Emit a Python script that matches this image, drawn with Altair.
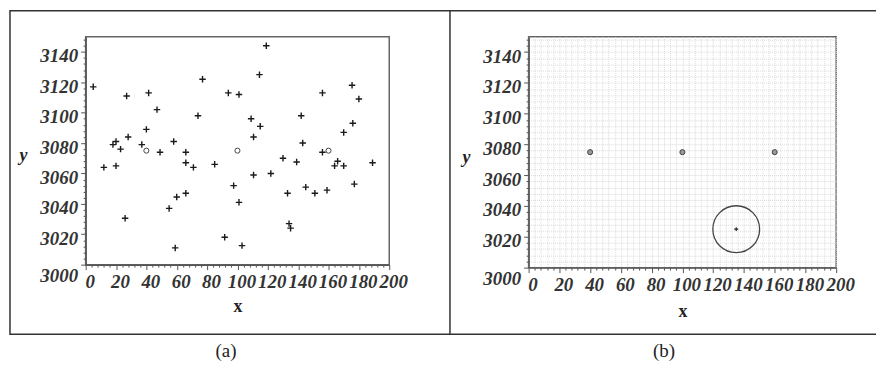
import altair as alt
import pandas as pd

# ---- data ----
a_x = [5, 27, 41.5, 47, 77, 74, 94, 101, 40, 28, 20, 18, 37, 58, 23,
       119, 114.5, 156, 175.5, 180, 142, 109, 115, 110.6, 176, 170, 143, 156,
       49, 66, 66, 71, 85, 12, 20, 97.5, 101, 66, 60, 55, 26, 91.6, 59, 103,
       130, 139, 166, 164, 170, 189, 110.6, 122, 133, 145, 151, 159, 177, 134, 135]
a_y = [3117, 3111, 3113, 3102, 3122, 3098, 3113, 3112, 3089, 3084, 3081, 3079, 3079, 3081, 3076,
       3144, 3125, 3113, 3118, 3109, 3098, 3096, 3091, 3084, 3093, 3087, 3080, 3074,
       3074, 3074, 3067, 3064, 3066, 3064, 3065, 3052, 3041, 3047, 3044.5, 3037, 3030.5, 3018, 3011, 3012.5,
       3070, 3067.5, 3068, 3065, 3065, 3067, 3059, 3060, 3047, 3051, 3047, 3049, 3053, 3027, 3024]
ring_x = [40, 100, 160]
ring_y = [3075, 3075, 3075]
hit_x = [135]
hit_y = [3025]

x_ticks = list(range(0, 201, 4))
y_ticks = list(range(3000, 3151, 4))
captions = ["(a)", "(b)"]

FONT = "Liberation Serif"
AX = "#555"
CROSS = "M-1,0H1M0,-1V1"

df_a = pd.DataFrame({"x": a_x, "y": a_y})
df_r = pd.DataFrame({"x": ring_x, "y": ring_y})
df_h = pd.DataFrame({"x": hit_x, "y": hit_y})
one = alt.Data(values=[{}])

xs = alt.Scale(domain=[0, 200], nice=False, zero=False)
ys = alt.Scale(domain=[3000, 3150], nice=False, zero=False)

major_tick = {"condition": {"test": "datum.value % 20 === 0", "value": 5}, "value": 2.5}


def x_axis(grid, title_y):
    return alt.Axis(
        values=x_ticks, tickCount=200, format="d", title="x",
        labelExpr="datum.value % 20 === 0 ? datum.label : ''",
        labelFont=FONT, labelFontSize=19, labelFontStyle="italic", labelFontWeight="bold",
        labelColor="#333", labelOverlap=False, labelFlush=False, labelOffset=4,
        labelBound=False,
        labelPadding=3, tickSize=major_tick, tickColor=AX, domainColor=AX, domainWidth=1.5,
        titleFont=FONT, titleFontSize=18, titleFontWeight="bold", titleColor="#222",
        titleY=title_y, titleBaseline="middle",
        grid=grid, gridColor="#dadada", gridDash=[1, 1], gridWidth=1,
    )


def y_axis(grid, title_y):
    return alt.Axis(
        values=y_ticks, tickCount=200, format="d", title="y",
        labelExpr="datum.value % 20 === 0 ? datum.label : ''",
        labelFont=FONT, labelFontSize=19, labelFontStyle="italic", labelFontWeight="bold",
        labelColor="#333", labelOverlap=False, labelFlush=False,
        labelBound=False,
        labelOffset={"condition": {"test": "datum.value === 3000", "value": 11}, "value": 4},
        labelPadding=3, tickSize=major_tick, tickColor=AX, domainColor=AX, domainWidth=1.5,
        titleFont=FONT, titleFontSize=18, titleFontWeight="bold", titleFontStyle="italic",
        titleColor="#222", titleAngle=0, titleX=-63, titleY=title_y,
        titleAlign="center", titleBaseline="middle",
        grid=grid, gridColor="#dadada", gridDash=[1, 1], gridWidth=1,
    )


# ---- panel (a) ----
pts_a = alt.Chart(df_a).mark_point(
    shape=CROSS, size=42, filled=False, color="#1a1a1a", strokeWidth=1.4, opacity=1
).encode(
    x=alt.X("x:Q", scale=xs, axis=x_axis(False, 42)),
    y=alt.Y("y:Q", scale=ys, axis=y_axis(False, 119)),
)
rings_a = alt.Chart(df_r).mark_point(
    shape="circle", size=26, filled=False, color="#444", strokeWidth=1, opacity=1
).encode(x="x:Q", y="y:Q")
box_a = alt.Chart(one).mark_rect(fillOpacity=0, stroke="#333", strokeWidth=1.5).encode(
    x=alt.value(-76), x2=alt.value(366), y=alt.value(-26), y2=alt.value(299)
)
cap_a = alt.Chart(one).mark_text(
    text=captions[0], font=FONT, fontSize=19, color="#222", baseline="middle"
).encode(x=alt.value(141), y=alt.value(316))

panel_a = alt.layer(box_a, pts_a, rings_a, cap_a).properties(width=305, height=229)

# ---- panel (b) ----
rings_b = alt.Chart(df_r).mark_point(
    shape="circle", size=26, filled=True, color="#999", stroke="#444", strokeWidth=1, opacity=1
).encode(
    x=alt.X("x:Q", scale=xs, axis=x_axis(True, 44)),
    y=alt.Y("y:Q", scale=ys, axis=y_axis(True, 121)),
)
big_b = alt.Chart(df_h).mark_point(
    shape="circle", size=2209, filled=False, color="#444", strokeWidth=1.3, opacity=1
).encode(x="x:Q", y="y:Q")
cen_b = alt.Chart(df_h).mark_point(
    shape=CROSS, size=16, filled=False, color="#222", strokeWidth=1.2, opacity=1
).encode(x="x:Q", y="y:Q")
top_b = alt.Chart(one).mark_rule(color="#333", strokeWidth=1.5).encode(
    x=alt.value(-79), x2=alt.value(349), y=alt.value(-26)
)
bot_b = alt.Chart(one).mark_rule(color="#333", strokeWidth=1.5).encode(
    x=alt.value(-79), x2=alt.value(349), y=alt.value(299)
)
cap_b = alt.Chart(one).mark_text(
    text=captions[1], font=FONT, fontSize=19, color="#222", baseline="middle"
).encode(x=alt.value(136), y=alt.value(316))

panel_b = alt.layer(top_b, bot_b, rings_b, big_b, cen_b, cap_b).properties(width=309, height=232)

chart = alt.hconcat(panel_a, panel_b, spacing=140, bounds="flush").properties(
    padding={"left": 0, "top": 0, "right": 0, "bottom": 0}, background="white"
).configure_view(stroke="#666", strokeWidth=1.5)

chart.save("out.html", embed_options={"renderer": "svg", "actions": False})
